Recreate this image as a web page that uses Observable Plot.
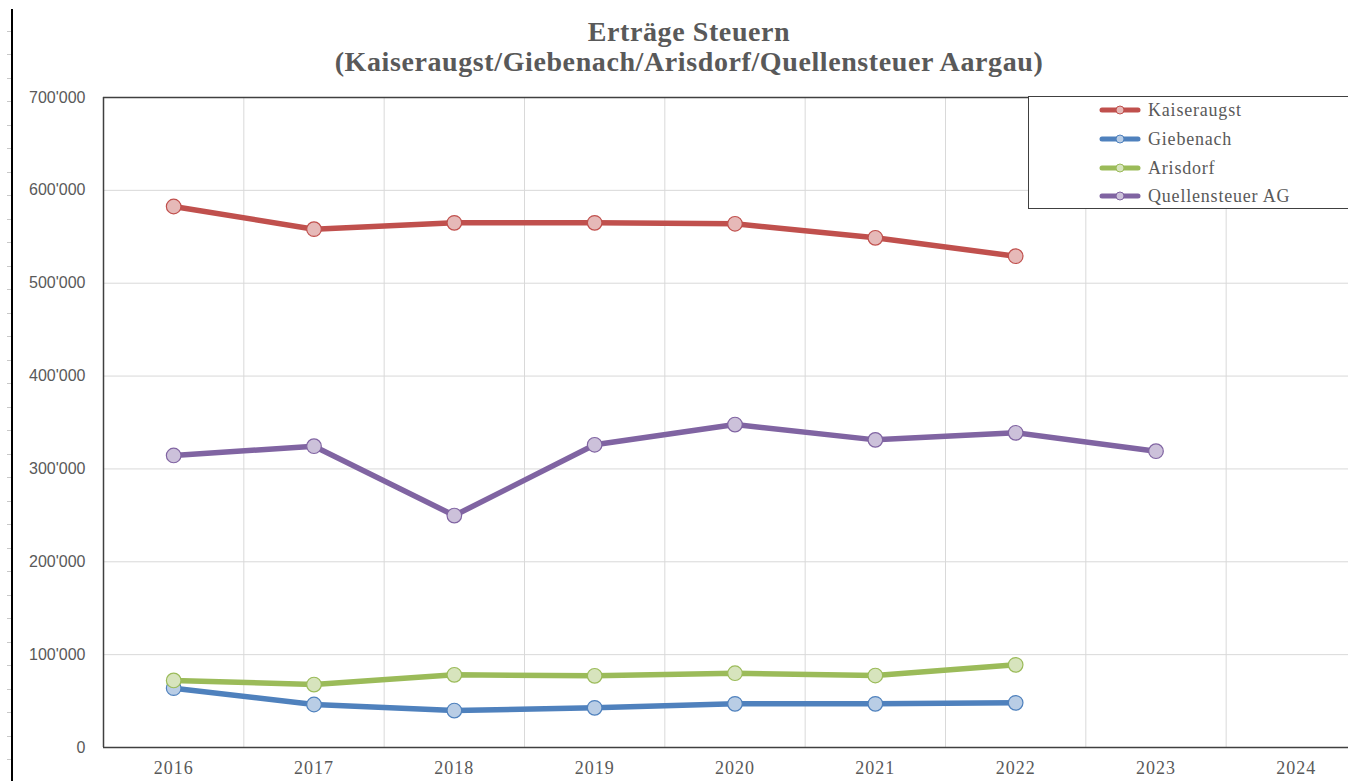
<!DOCTYPE html>
<html>
<head>
<meta charset="utf-8">
<script src="https://cdn.jsdelivr.net/npm/d3@7"></script>
<script src="https://cdn.jsdelivr.net/npm/@observablehq/plot@0.6"></script>
<style>
  html, body { margin: 0; padding: 0; background: #fff; overflow: hidden; }
  #page { position: relative; width: 1366px; height: 781px; }
  #ruler { position: absolute; left: 11px; top: 9px; width: 2px; height: 772px; background: #000; }
  #ticks { position: absolute; left: 7px; top: 20px; width: 4px; height: 761px;
    background: repeating-linear-gradient(to bottom, transparent 0, transparent 10.5px, #c8c8c8 10.5px, #c8c8c8 11.5px, transparent 11.5px, transparent 23.5px); }
  .title { position: absolute; left: 0; width: 1378px; text-align: center;
    font-family: "Liberation Serif", "Times New Roman", serif; font-weight: bold;
    font-size: 28px; letter-spacing: 0.6px; color: #595959; line-height: 30px; white-space: nowrap; }
  #chart { position: absolute; left: 0; top: 80px; }
  #legend { position: absolute; left: 1028px; top: 96px; width: 400px; height: 111px;
    border: 1.5px solid #404040; background: #fff; }
  .lg-row { position: absolute; left: 0; height: 20px; }
  .lg-row svg { position: absolute; left: 70px; top: 4px; }
  .lg-row span { position: absolute; left: 119px; top: 0; line-height: 20px;
    font-family: "Liberation Serif", "Times New Roman", serif; font-size: 18px; letter-spacing: 0.8px;
    color: #595959; white-space: nowrap; }
</style>
</head>
<body>
<div id="page">
  <div id="ruler"></div>
  <div id="ticks"></div>
  <div class="title" style="top:17px">Erträge Steuern</div>
  <div class="title" style="top:47px">(Kaiseraugst/Giebenach/Arisdorf/Quellensteuer Aargau)</div>
  <div id="chart"></div>
  <div id="legend"></div>
</div>
<script>
const years = [2016, 2017, 2018, 2019, 2020, 2021, 2022, 2023, 2024];
const seriesNames = ["Kaiseraugst", "Giebenach", "Arisdorf", "Quellensteuer AG"];
const kaiseraugst = [582600, 558200, 565000, 565000, 564000, 548900, 529100];
const giebenach = [63900, 46300, 39800, 42700, 47000, 47000, 48100];
const arisdorf = [72200, 67800, 78300, 77200, 80000, 77500, 89000];
const quellensteuer = [314500, 324500, 249800, 326000, 347800, 331300, 338900, 319100];
const lineColors = ["#C0504D", "#4F81BD", "#9BBB59", "#8064A2"];
const markerFills = ["#E6B9B8", "#B9CDE5", "#D7E4BD", "#CCC1DA"];
const yTicks = [0, 100000, 200000, 300000, 400000, 500000, 600000, 700000];

const seriesValues = [kaiseraugst, giebenach, arisdorf, quellensteuer];
const rows = seriesValues.map((vals, i) =>
  vals.map((v, j) => ({ year: years[j], value: v, series: seriesNames[i] })));

const loc = d3.formatLocale({ decimal: ".", thousands: "'", grouping: [3], currency: ["", ""] });
const fmt = loc.format(",");

const seriesMarks = rows.flatMap((data, i) => [
  Plot.line(data, { x: "year", y: "value", stroke: lineColors[i], strokeWidth: 5.5,
    strokeLinecap: "round", strokeLinejoin: "round" }),
  Plot.dot(data, { x: "year", y: "value", r: 7.3, fill: markerFills[i], stroke: lineColors[i],
    strokeWidth: 1.2, fillOpacity: 1 })
]);

const gridXs = years.slice(0, -1).map(y => y + 0.5);

const chart = Plot.plot({
  width: 1366,
  height: 701,
  marginLeft: 103,
  marginRight: 0,
  marginTop: 17,
  marginBottom: 34,
  x: { type: "linear", domain: [years[0] - 0.5, years[years.length - 1] + 0.5] },
  y: { domain: [0, 700000] },
  style: { background: "transparent", overflow: "visible" },
  marks: [
    Plot.gridY(yTicks, { stroke: "#D9D9D9", strokeOpacity: 1, strokeWidth: 1 }),
    Plot.gridX(gridXs, { stroke: "#D9D9D9", strokeOpacity: 1, strokeWidth: 1 }),
    Plot.ruleX([years[0] - 0.5], { stroke: "#404040", strokeWidth: 1.5 }),
    Plot.ruleY([0, 700000], { stroke: "#404040", strokeWidth: 1.5 }),
    Plot.axisY(yTicks, { tickSize: 0, tickPadding: 18, tickFormat: fmt, label: null,
      fontSize: 16, fill: "#595959", fontFamily: "Liberation Sans, Arial, sans-serif" }),
    Plot.axisX(years, { tickSize: 0, tickPadding: 14, tickFormat: d => String(d), label: null,
      fontSize: 18, fill: "#595959", fontFamily: "Liberation Serif, Times New Roman, serif" }),
    ...seriesMarks
  ]
});
chart.querySelectorAll('[aria-label="x-axis tick label"] text').forEach(t => t.setAttribute("letter-spacing", "1"));
document.getElementById("chart").appendChild(chart);

const legend = document.getElementById("legend");
const rowTops = [3, 32, 61, 89];
seriesNames.forEach((name, i) => {
  const r = document.createElement("div");
  r.className = "lg-row";
  r.style.top = rowTops[i] + "px";
  r.innerHTML = `<svg width="42" height="12"><line x1="3" y1="6" x2="39" y2="6" stroke="${lineColors[i]}" stroke-width="5" stroke-linecap="round"/><circle cx="21" cy="6" r="4" fill="${markerFills[i]}" stroke="${lineColors[i]}" stroke-width="1"/></svg><span>${name}</span>`;
  legend.appendChild(r);
});
</script>
</body>
</html>
